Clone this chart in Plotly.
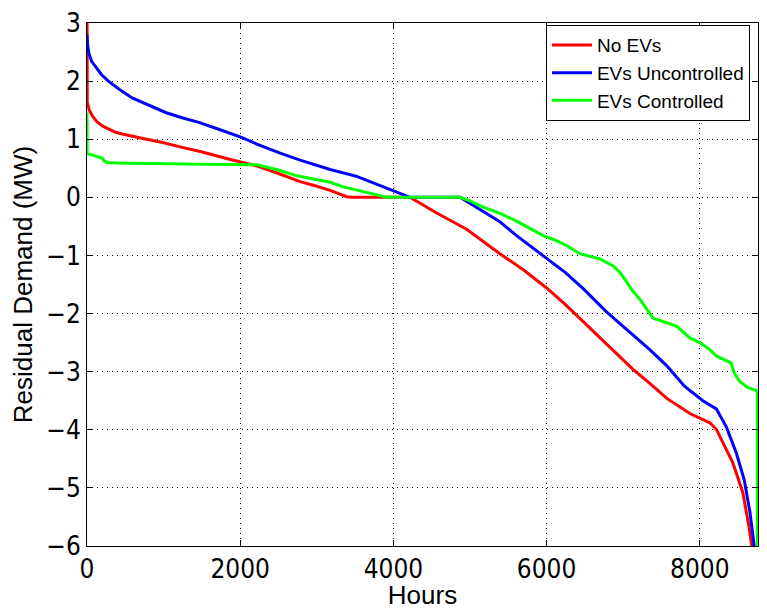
import plotly.graph_objects as go

# ---- data ----
red_hours = [0, 3, 30, 69, 130, 200, 373, 460, 808, 1000, 1243, 1504, 1870, 2217, 2500,
             2782, 3000, 3174, 3391, 3450, 4217, 4565, 4956, 5390, 5700, 6000, 6250, 6478, 6700,
             6912, 7128, 7347, 7570, 7871, 8000, 8132, 8220, 8302, 8432, 8562, 8640, 8690]
red_vals = [3.3, 1.63, 1.5, 1.4, 1.3, 1.23, 1.12, 1.09, 0.99, 0.94, 0.86, 0.78, 0.65,
            0.54, 0.41, 0.27, 0.19, 0.12, 0.01, 0.0, 0.0, -0.27, -0.55, -0.97, -1.25, -1.56, -1.85,
            -2.14, -2.42, -2.7, -2.96, -3.2, -3.46, -3.72, -3.8, -3.88, -4.0, -4.23, -4.57, -5.08,
            -5.65, -6.1]

blue_hours = [0, 8, 26, 60, 112, 190, 287, 420, 590, 782, 1025, 1240, 1460, 1700, 2000, 2250, 2522,
              2782, 3174, 3521, 3800, 4000, 4217, 4870, 5100, 5390, 5600, 5870, 6000, 6250, 6478,
              6782, 7130, 7347, 7570, 7800, 8040, 8216, 8346, 8477, 8580, 8655, 8720]
blue_vals = [2.8, 2.62, 2.47, 2.34, 2.25, 2.11, 1.99, 1.86, 1.71, 1.6, 1.46, 1.37, 1.29, 1.18,
             1.04, 0.9, 0.76, 0.64, 0.48, 0.36, 0.22, 0.12, 0.0, 0.0, -0.18, -0.42, -0.65, -0.92,
             -1.04, -1.3, -1.57, -1.97, -2.37, -2.62, -2.9, -3.25, -3.5, -3.64, -3.95, -4.4, -4.86,
             -5.42, -6.1]

green_hours = [0, 2, 60, 156, 200, 222, 265, 400, 808, 1504, 2217, 2500, 2739, 3000, 3174, 3346,
               3600, 3913, 4870, 5000, 5173, 5400, 5608, 5800, 5955, 6100, 6260, 6434, 6600, 6695,
               6870, 6956, 7042, 7130, 7216, 7300, 7390, 7550, 7700, 7870, 8000, 8132, 8215, 8410,
               8450, 8515, 8620, 8752, 8753]
green_vals = [1.46, 0.75, 0.73, 0.69, 0.67, 0.63, 0.6, 0.59, 0.58, 0.57, 0.56, 0.47, 0.37, 0.3,
              0.26, 0.18, 0.1, 0.0, 0.0, -0.06, -0.17, -0.28, -0.41, -0.55, -0.66, -0.73, -0.83,
              -0.97, -1.03, -1.06, -1.18, -1.29, -1.45, -1.62, -1.75, -1.9, -2.08, -2.15, -2.22,
              -2.42, -2.5, -2.62, -2.73, -2.85, -3.02, -3.16, -3.27, -3.33, -6.2]

series_names = ["No EVs", "EVs Uncontrolled", "EVs Controlled"]
series_colors = ["#ff0000", "#0000ff", "#00ff00"]

x_ticks = [0, 2000, 4000, 6000, 8000]
y_ticks = [3, 2, 1, 0, -1, -2, -3, -4, -5, -6]

fig = go.Figure()
for name, color, xs, ys in zip(series_names, series_colors,
                               [red_hours, blue_hours, green_hours],
                               [red_vals, blue_vals, green_vals]):
    fig.add_trace(go.Scatter(x=xs, y=ys, mode="lines", name=name,
                             line=dict(color=color, width=3)))

tick_font = dict(family="Liberation Sans Narrow, DejaVu Sans Condensed, Liberation Sans, Arial",
                 size=26, color="black")
title_font = dict(family="Liberation Sans, Arial", size=26, color="black")

axis_common = dict(showline=True, linecolor="black", linewidth=1, mirror="ticks",
                   ticks="inside", ticklen=6, tickcolor="black", tickwidth=1,
                   showgrid=True, gridcolor="black", gridwidth=1, griddash="1px,4px",
                   zeroline=False, tickfont=tick_font)

fig.update_layout(
    width=767, height=610,
    margin=dict(l=87, r=8, t=17, b=62),
    paper_bgcolor="white", plot_bgcolor="white",
    xaxis=dict(range=[0, 8760], tickvals=x_ticks, ticktext=[str(v) for v in x_ticks],
               title=dict(text="Hours", font=title_font, standoff=0), **axis_common),
    yaxis=dict(range=[-6, 3], tickvals=y_ticks,
               title=dict(text="Residual Demand (MW)", font=title_font, standoff=6), **axis_common),
    legend=dict(x=0.988, y=0.996, xanchor="right", yanchor="top",
                bgcolor="white", bordercolor="black", borderwidth=1,
                font=dict(family="Liberation Sans, Arial", size=19, color="black"),
                tracegroupgap=0, itemwidth=40),
    showlegend=True,
)

fig.write_html("out.html")
